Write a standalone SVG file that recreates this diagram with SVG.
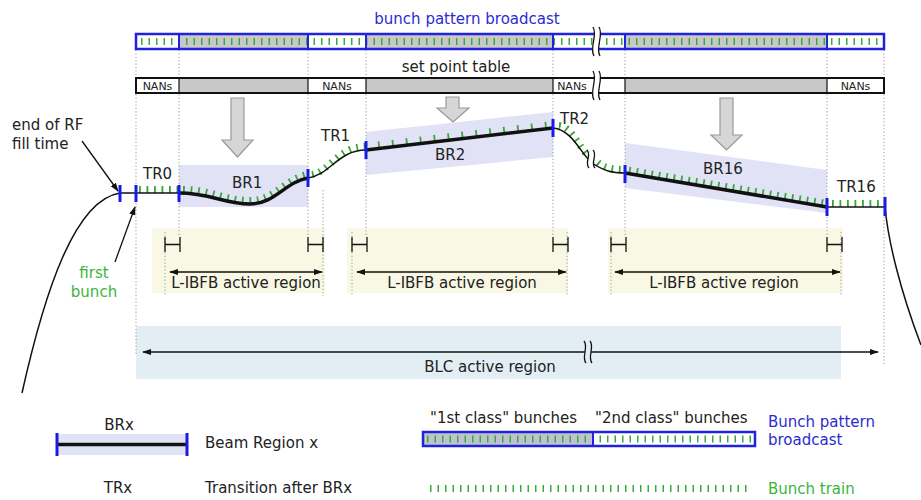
<svg xmlns="http://www.w3.org/2000/svg" width="921" height="500" viewBox="0 0 921 500">
<defs>
<marker id="ah" viewBox="0 0 10 10" refX="9" refY="5" markerWidth="9" markerHeight="9" markerUnits="userSpaceOnUse" orient="auto-start-reverse"><path d="M0,1.5 L10,5 L0,8.5 Z" fill="#111"/></marker>
</defs>
<style>
text{font-family:"DejaVu Sans","Liberation Sans",sans-serif;font-size:15px;fill:#222}
.blue{fill:#2b2bd0}
.green{fill:#3cb43c}
.nan{font-size:11px}
.mid{text-anchor:middle}
.dot{stroke:#999;stroke-width:1;stroke-dasharray:1.2 2.2;fill:none}
.tick{fill:none;stroke:#36a836;stroke-width:7;stroke-dasharray:1.8 5.7}
.btick{fill:none;stroke:#3aaa3a;stroke-width:7;stroke-dasharray:1.5 6}
.mk{stroke:#1a1ae6;stroke-width:3}
.thin{fill:none;stroke:#111;stroke-width:1.5}
.thick{fill:none;stroke:#111;stroke-width:3.5}
.bigarrow{fill:#d6d6d6;stroke:#9a9a9a;stroke-width:1.2}
.brkl{fill:none;stroke:#111;stroke-width:1.3}
.arr{stroke:#111;stroke-width:1.3;fill:none}
.band{fill:#e2e2f6}
.gray{fill:#c8c8c8}
.bdiv{stroke:#2222dd;stroke-width:2}
.sdiv{stroke:#111;stroke-width:1.2}
</style>

<g id="backgrounds">
<rect id="blc-region" x="136" y="326" width="705" height="53" fill="#e3eef4"/>
<rect x="152" y="228" width="173" height="65" fill="#f8f8e4"/>
<rect x="347" y="228" width="221" height="65" fill="#f8f8e4"/>
<rect x="608" y="228" width="235" height="65" fill="#f8f8e4"/>
<rect class="band" x="179" y="165" width="129" height="42"/>
<polygon class="band" points="366,132 553,112 553,157 366,175"/>
<polygon class="band" points="625,143 827,170 827,213 625,188"/>
</g>

<g id="dotted-lines">
<path class="dot" d="M136,50V355 M179,50V235 M308,50V235 M366,50V235 M553,50V235 M625,50V235 M827,50V235 M884,50V365 M323,190V296 M165,232V296 M352,232V296 M567,232V296 M611,232V296 M841,232V296"/>
</g>

<g id="broadcast-bar">
<text class="blue mid" x="467" y="24">bunch pattern broadcast</text>
<rect x="136" y="34" width="748" height="15" fill="#fff"/>
<rect class="gray" x="179" y="34" width="129" height="15"/>
<rect class="gray" x="366" y="34" width="187" height="15"/>
<rect class="gray" x="625" y="34" width="202" height="15"/>
<path class="btick" d="M141,41.5H882"/>
<path class="bdiv" d="M179,34V49 M308,34V49 M366,34V49 M553,34V49 M625,34V49 M827,34V49"/>
<rect x="136" y="34" width="748" height="15" fill="none" stroke="#2222dd" stroke-width="2.5"/>
<path d="M593,27 C598,35 589,48 594,56 L600,56 C595,48 604,35 599,27 Z" fill="#fff"/>
<path class="brkl" d="M593,27 C598,35 589,48 594,56 M599,27 C604,35 595,48 600,56"/>
</g>

<g id="set-point-table">
<text class="mid" x="456" y="72">set point table</text>
<rect x="136" y="78" width="748" height="15" fill="#fff"/>
<rect class="gray" x="179" y="78" width="129" height="15"/>
<rect class="gray" x="366" y="78" width="187" height="15"/>
<rect class="gray" x="625" y="78" width="202" height="15"/>
<path class="sdiv" d="M179,78V93 M308,78V93 M366,78V93 M553,78V93 M625,78V93 M827,78V93"/>
<rect x="136" y="78" width="748" height="15" fill="none" stroke="#111" stroke-width="2"/>
<text class="nan mid" x="157.5" y="89.5">NANs</text>
<text class="nan mid" x="337" y="89.5">NANs</text>
<text class="nan mid" x="572" y="89.5">NANs</text>
<text class="nan mid" x="855.5" y="89.5">NANs</text>
<path d="M593,71 C598,79 589,92 594,100 L600,100 C595,92 604,79 599,71 Z" fill="#fff"/>
<path class="brkl" d="M593,71 C598,79 589,92 594,100 M599,71 C604,79 595,92 600,100"/>
</g>

<g id="big-arrows">
<path class="bigarrow" d="M231,98 H244 V140 H253 L237.5,157 L222,140 H231 Z"/>
<path class="bigarrow" d="M446,97 H459 V108 H469 L453,122 L437,108 H446 Z"/>
<path class="bigarrow" d="M720,98 H733 V135 H742 L726.5,150 L711,135 H720 Z"/>
</g>

<g id="connectors">
<path class="arr" d="M82,141 L118,191" marker-end="url(#ah)"/>
<path class="arr" d="M115,262 L135,207" marker-end="url(#ah)"/>
<path class="arr" d="M170,272 H322" marker-start="url(#ah)" marker-end="url(#ah)"/>
<path class="arr" d="M357,272 H566" marker-start="url(#ah)" marker-end="url(#ah)"/>
<path class="arr" d="M615,272 H840" marker-start="url(#ah)" marker-end="url(#ah)"/>
<path class="arr" d="M143,352 H878" marker-start="url(#ah)" marker-end="url(#ah)"/>
<path d="M584,341 C589,347 581,357 586,363 L592,363 C587,357 595,347 590,341 Z" fill="#e3eef4"/>
<path class="brkl" d="M584,341 C589,347 581,357 586,363 M590,341 C595,347 587,357 592,363"/>
</g>

<g id="beam-curve">
<g transform="translate(0,-3.5)">
<path class="tick" d="M139,193 L179,193"/>
<path class="tick" d="M183,193 C210,193 225,204 250,204 C275,204 285,182 308,178"/>
<path class="tick" d="M312,178 C330,175 338,150 366,150"/>
<path class="tick" style="stroke-dasharray:1.8 12.2" d="M378,148.6 L553,128"/>
<path class="tick" d="M559,129 C572,130 580,152 587,158"/>
<path class="tick" d="M598,166 C604,171 612,173 625,173"/>
<path class="tick" d="M629,173.7 L827,207"/>
<path class="tick" d="M832,207 L885,207"/>
</g>
<path class="thin" d="M22,393 C45,290 75,200 120,193 L179,193"/>
<path class="thick" d="M179,193 C210,193 225,204 250,204 C275,204 285,182 308,178"/>
<path class="thin" d="M308,178 C330,175 338,150 366,150"/>
<path class="thick" d="M366,150 L553,128"/>
<path class="thin" d="M553,128 C572,130 580,152 590,161"/>
<path class="thin" d="M592,163 C604,171 612,173 625,173"/>
<path class="thick" d="M625,173 L827,207"/>
<path class="thin" d="M827,207 L885,207 C888,240 900,290 921,345"/>
<path d="M587,150 C592,155 584,163 589,168 L595,168 C590,163 598,155 593,150 Z" fill="#fff"/>
<path class="brkl" d="M587,150 C592,155 584,163 589,168 M593,150 C598,155 590,163 595,168"/>
</g>

<g id="markers">
<path class="mk" d="M120,185V202 M136,185V202 M179,185V202 M308,169V187 M366,141V159 M553,119V137 M625,165V183 M827,198V216 M885,197V216"/>
</g>

<g id="labels">
<text x="12" y="130">end of RF</text>
<text x="12" y="149">fill time</text>
<text class="green mid" x="94" y="278">first</text>
<text class="green mid" x="94" y="297">bunch</text>
<text x="143" y="179">TR0</text>
<text x="232" y="188">BR1</text>
<text x="321" y="141">TR1</text>
<text x="435" y="160">BR2</text>
<text x="560" y="124">TR2</text>
<text x="703" y="174">BR16</text>
<text x="837" y="192">TR16</text>
<text class="mid" x="246" y="288">L-IBFB active region</text>
<text class="mid" x="462" y="288">L-IBFB active region</text>
<text class="mid" x="724" y="288">L-IBFB active region</text>
<text class="mid" x="490" y="372">BLC active region</text>
</g>

<g id="h-marks" stroke="#111" stroke-width="1.3" fill="none">
<path d="M165,237V252 M180,237V252 M165,244.5H180"/>
<path d="M308,237V252 M323,237V252 M308,244.5H323"/>
<path d="M352,237V252 M367,237V252 M352,244.5H367"/>
<path d="M553,237V252 M568,237V252 M553,244.5H568"/>
<path d="M611,237V252 M626,237V252 M611,244.5H626"/>
<path d="M827,237V252 M842,237V252 M827,244.5H842"/>
</g>

<g id="legend">
<text class="mid" x="119" y="430">BRx</text>
<rect class="band" x="57" y="434" width="130" height="21"/>
<path stroke="#111" stroke-width="3.5" d="M57,444.5H187"/>
<path class="mk" d="M57,433V456 M187,433V456"/>
<text x="205" y="448">Beam Region x</text>
<text class="mid" x="118" y="493">TRx</text>
<text x="205" y="493">Transition after BRx</text>
<text x="430" y="423">"1st class" bunches</text>
<text x="595" y="423">"2nd class" bunches</text>
<rect x="423" y="432" width="332" height="14" fill="#fff"/>
<rect x="423" y="432" width="170" height="14" fill="#bcc4cc"/>
<path class="btick" d="M427,439H752"/>
<path class="bdiv" d="M593,432V446"/>
<rect x="423" y="432" width="332" height="14" fill="none" stroke="#2222dd" stroke-width="2.5"/>
<text class="blue" x="768" y="427">Bunch pattern</text>
<text class="blue" x="768" y="445">broadcast</text>
<path class="btick" d="M430,488.5H750"/>
<text class="green" x="768" y="494">Bunch train</text>
</g>
</svg>
